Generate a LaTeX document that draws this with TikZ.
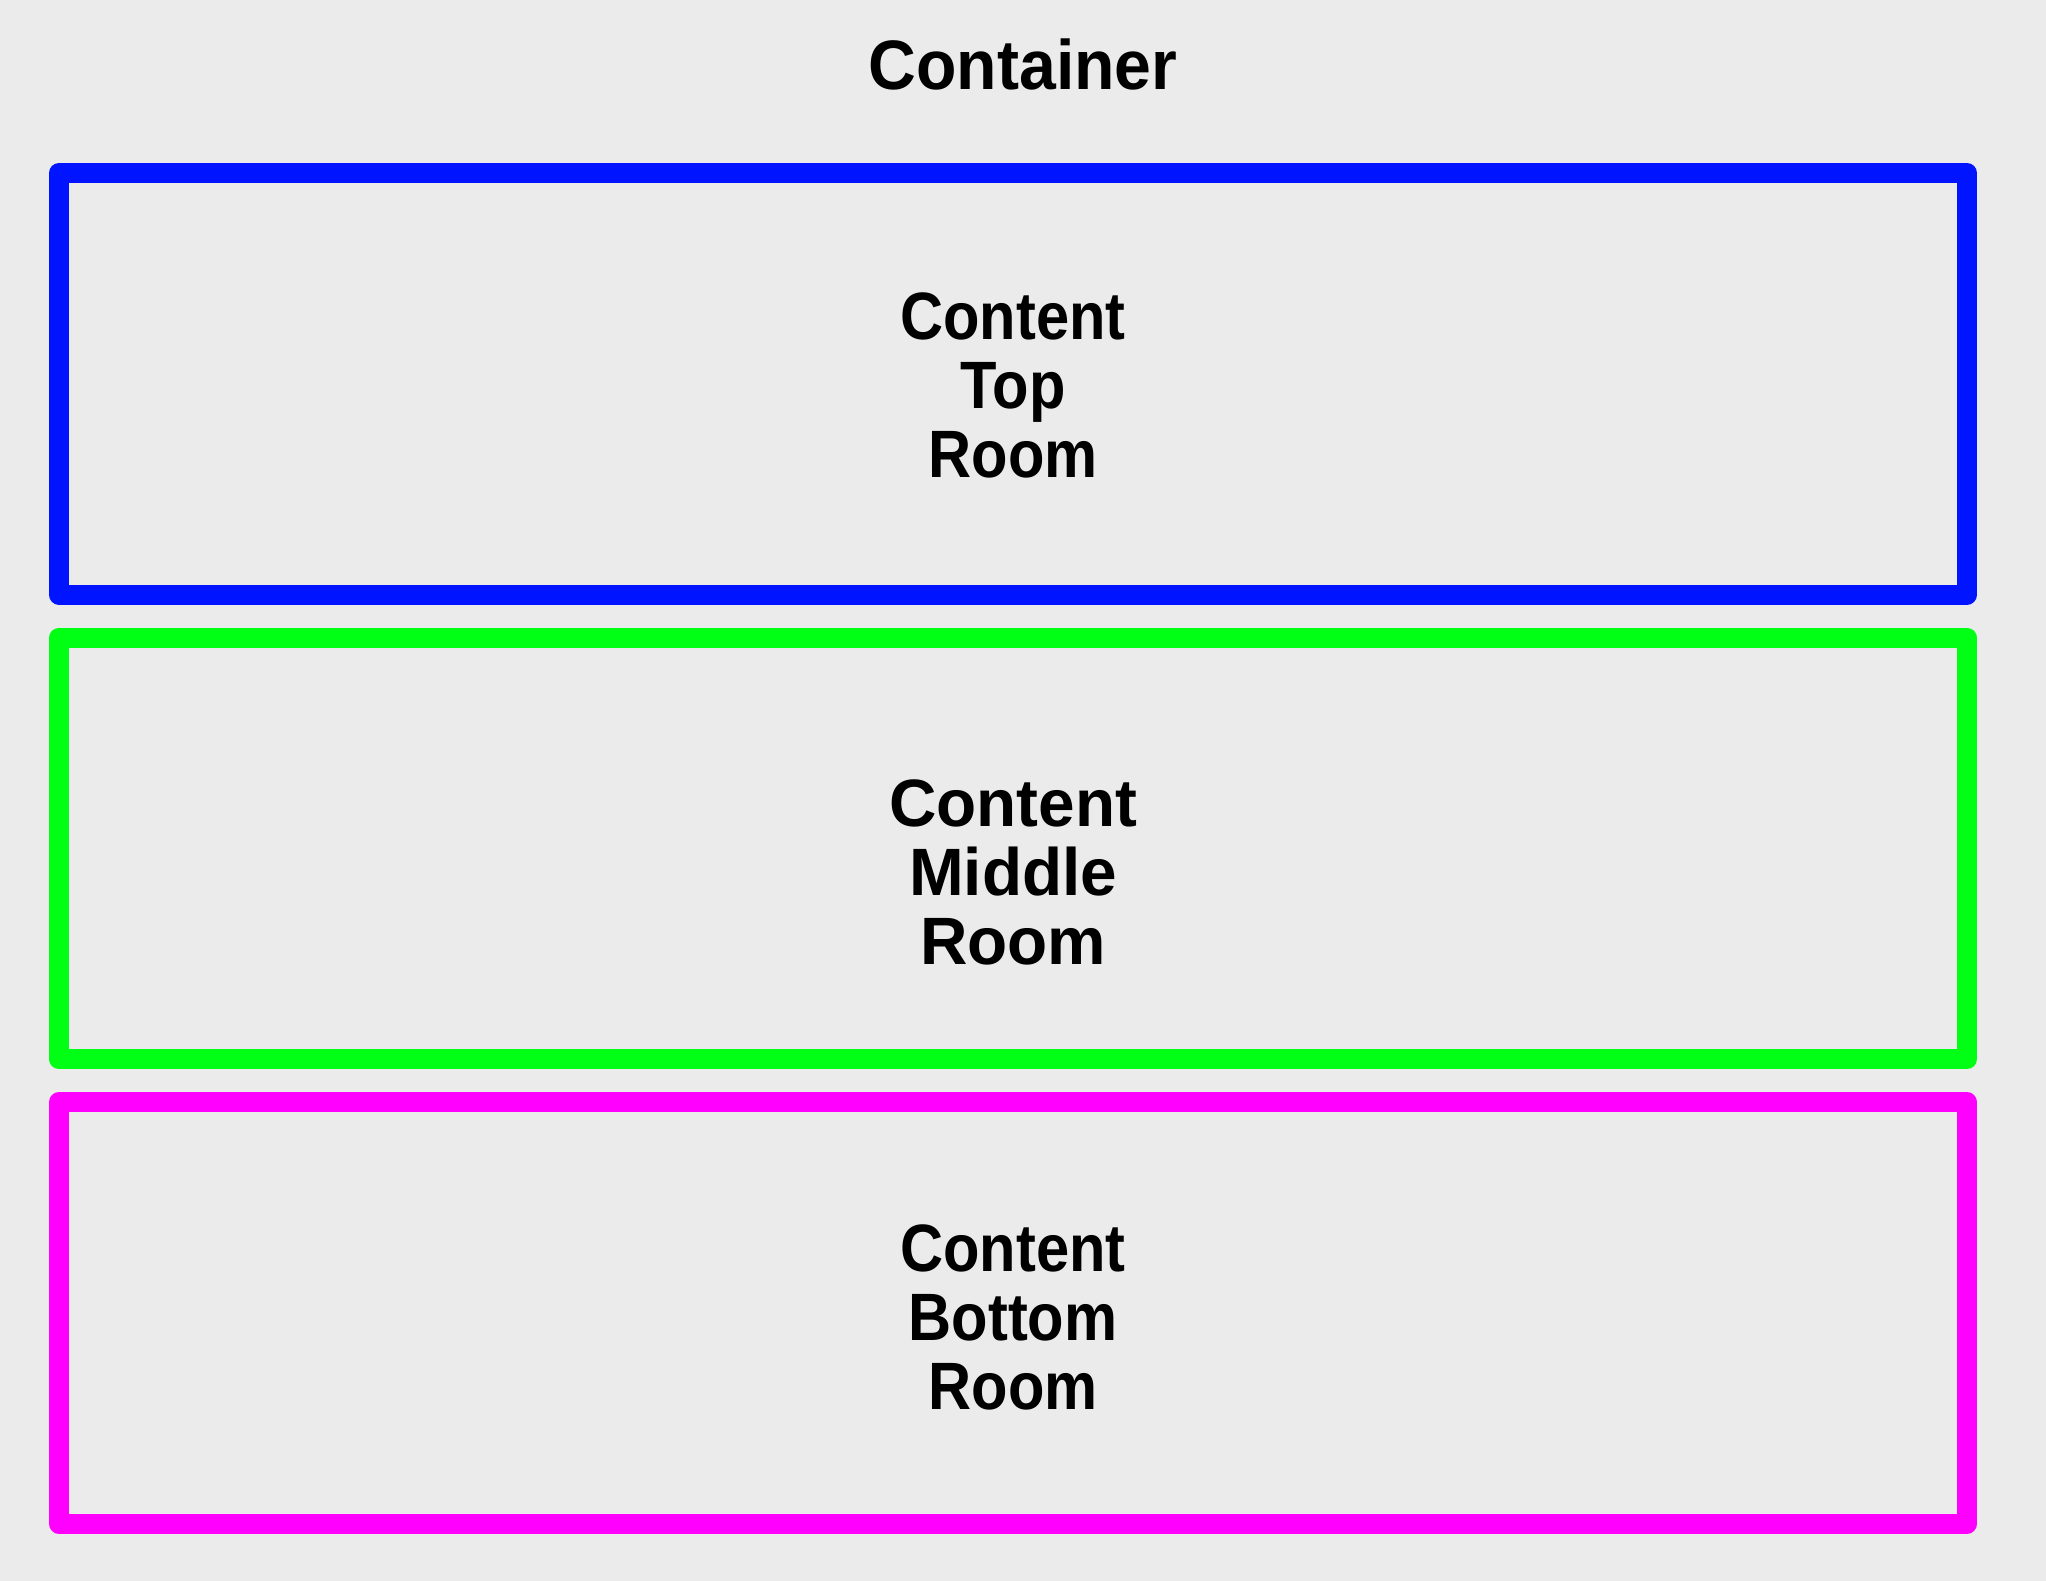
\documentclass[tikz,border=0pt]{standalone}
\usepackage{fontspec}
\setmainfont{Liberation Sans}
\newfontfamily\narrowfont[FakeStretch=0.89]{Liberation Sans}
\newfontfamily\widefont[FakeStretch=0.98]{Liberation Sans}
\newfontfamily\headfont[FakeStretch=0.945]{Liberation Sans}
\usetikzlibrary{positioning}
\definecolor{roomblue}{HTML}{0014FF}
\definecolor{roomgreen}{HTML}{00FF14}
\definecolor{roommagenta}{HTML}{FF00FF}
\definecolor{pagegray}{HTML}{EBEBEB}

\begin{document}
\begin{tikzpicture}[
        node distance=5.75pt,
        room/.style={
            rectangle,
            draw=#1,
            line width=5pt,
            line join=round,
            minimum width=477pt,
            minimum height=105.4pt,
            inner sep=0pt
        },
        roomtext/.style={
            font=#1\fontsize{16.75pt}{17.25pt}\selectfont\bfseries,
            align=center,
            inner sep=0pt
        },
        roomtext/.default=\narrowfont,
        headtext/.style={
            font=\headfont\fontsize{17.5pt}{18pt}\selectfont\bfseries,
            inner sep=0pt,
            anchor=base
        }
    ]
        % page
        \fill[pagegray] (0,0) rectangle (511.5pt,-395.25pt);
        \useasboundingbox (0,0) rectangle (511.5pt,-395.25pt);

        \node[headtext] (container) at (255.75pt,-22.5pt) {Container};

        % rooms
        \node[room=roomblue] (toproom) at (253.25pt,-95.95pt) {};
        \node[room=roomgreen, below=of toproom] (middleroom) {};
        \node[room=roommagenta, below=of middleroom] (bottomroom) {};

        \node[roomtext, yshift=-0.4pt] (toptext) at (toproom)
            {Content\\Top\\Room};
        \node[roomtext=\widefont, yshift=-6pt] (middletext) at (middleroom)
            {Content\\Middle\\Room};
        \node[roomtext, yshift=-1.2pt] (bottomtext) at (bottomroom)
            {Content\\Bottom\\Room};
    \end{tikzpicture}
\end{document}
